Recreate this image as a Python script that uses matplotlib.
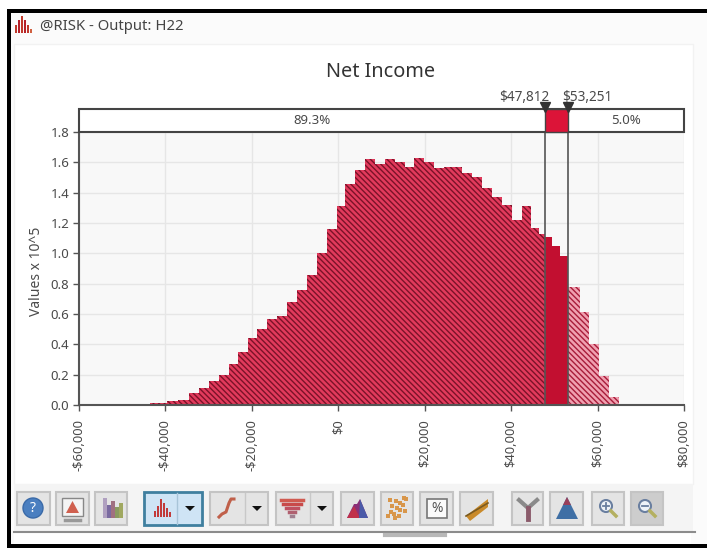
#!/usr/bin/env python3

import numpy as np
import matplotlib
matplotlib.use("Agg")
import matplotlib.pyplot as plt
from matplotlib.patches import Rectangle, Circle, Polygon

plt.rcParams["font.family"] = ["Noto Sans", "DejaVu Sans"]
plt.rcParams["hatch.linewidth"] = 1.0

# Bin edges in dollars and bar heights (values x 10^5)
bin_edges = [-47400, -45450, -43500, -41600, -39700, -37100, -34650, -32300, -30000,
             -27700, -25400, -23100, -20800, -18800, -16500, -14200, -11900, -9600,
             -7250, -4900, -2600, -300, 1600, 3900, 6250, 8560, 10880, 13190, 15510,
             17440, 19750, 22070, 24380, 26310, 28630, 30940, 33260, 35570, 37880,
             40200, 42510, 44670, 46370, 47812, 49460, 51390, 53251, 55860, 57950,
             60260, 62580, 64890]
heights = [0.005, 0.005, 0.012, 0.015, 0.025, 0.035, 0.08, 0.11, 0.155, 0.20, 0.27,
           0.35, 0.445, 0.50, 0.57, 0.59, 0.68, 0.76, 0.86, 1.00, 1.16, 1.31, 1.46,
           1.55, 1.62, 1.59, 1.62, 1.60, 1.57, 1.63, 1.60, 1.56, 1.57, 1.57,
           1.53, 1.50, 1.43, 1.37, 1.32, 1.22, 1.31, 1.17, 1.13, 1.11, 1.05, 0.98,
           0.78, 0.615, 0.405, 0.19, 0.05]
x_ticks = [-60000, -40000, -20000, 0, 20000, 40000, 60000, 80000]
x_labels = ["-$60,000", "-$40,000", "-$20,000", "$0", "$20,000", "$40,000", "$60,000", "$80,000"]
y_ticks = [0.0, 0.2, 0.4, 0.6, 0.8, 1.0, 1.2, 1.4, 1.6, 1.8]
low_cut, high_cut = 47812, 53251
low_label, high_label = "$47,812", "$53,251"
left_pct, right_pct = "89.3%", "5.0%"

W, H = 707, 548
TXT = "#4a4a4a"

fig = plt.figure(figsize=(W / 100, H / 100), dpi=100, facecolor="white")

# Window chrome, in pixel coordinates
bg = fig.add_axes([0, 0, 1, 1], zorder=0)
bg.set_xlim(0, W)
bg.set_ylim(H, 0)
bg.axis("off")

bg.add_patch(Rectangle((11, 13), W - 11, 531, fc="#fbfbfb", ec="none"))
bg.add_patch(Rectangle((14, 44), 679, 440, fc="white", ec="#f2f2f2", lw=1))
bg.add_patch(Rectangle((14, 484), 679, 48, fc="#f4f4f4", ec="none"))
bg.add_patch(Rectangle((14, 532), W - 30, 12, fc="white", ec="none"))
bg.plot([14, 695], [532, 532], color="#8c8c8c", lw=1.5)
bg.plot([385, 445], [535, 535], color="#b8b8b8", lw=3)
bg.add_patch(Rectangle((7, 9), W - 7, 4, fc="black", ec="none"))
bg.add_patch(Rectangle((7, 9), 4, H - 9, fc="black", ec="none"))
bg.add_patch(Rectangle((7, 544), W - 7, 4, fc="black", ec="none"))

# title bar icon and caption
for xx, hh, col in zip([15, 18, 21, 24, 27, 30], [8, 13, 17, 13, 8, 4],
                       ["#c0392b", "#b5202a", "#c0392b", "#b5202a", "#c0392b", "#d06040"]):
    bg.add_patch(Rectangle((xx, 33 - hh), 2.2, hh, fc=col, ec="none"))
bg.text(40, 26, "@RISK - Output: H22", fontsize=10.7, color="#444444", va="center", ha="left")


def button(x0, x1, fc="#e4e4e4", ec="#c4c4c4", lw=1.5):
    bg.add_patch(Rectangle((x0, 492), x1 - x0, 33, fc=fc, ec=ec, lw=lw))


def arrow(cx, color="#111111"):
    bg.add_patch(Polygon([(cx - 5, 506), (cx + 5, 506), (cx, 511)], fc=color, ec="none"))


def hist_icon(cx):
    for dx, hh in zip([-8, -5, -2, 1, 4, 7], [6, 11, 18, 14, 9, 5]):
        bg.add_patch(Rectangle((cx + dx, 517 - hh), 2.2, hh, fc="#c23a3a", ec="none"))


def zoom_icon(cx, color, sign):
    bg.add_patch(Circle((cx - 2, 506), 6, fc="#eef3f8", ec=color, lw=1.5))
    bg.plot([cx - 5, cx + 1], [506, 506], color=color, lw=1.3)
    if sign == "+":
        bg.plot([cx - 2, cx - 2], [503, 509], color=color, lw=1.3)
    bg.plot([cx + 3, cx + 8], [511, 516], color="#b4b060", lw=2.5)


button(17, 50)
bg.add_patch(Circle((33, 508), 10, fc="#4b7fc0", ec="#3a6aa8", lw=1))
bg.text(33, 508, "?", color="white", fontsize=10, fontweight="bold", ha="center", va="center")

button(56, 89)
bg.add_patch(Rectangle((62, 498), 21, 18, fc="#f4f4f4", ec="#888888", lw=1))
bg.add_patch(Polygon([(66, 513), (79, 513), (72.5, 501)], fc="#d0604f", ec="none"))
bg.plot([65, 80], [520, 520], color="#999999", lw=2.5)

button(95, 127)
for xx, hh, col in zip([103, 107, 111, 115, 119], [20, 13, 17, 11, 15],
                       ["#b0a0c0", "#7a6aa0", "#a07080", "#8a9a60", "#a0a860"]):
    bg.add_patch(Rectangle((xx, 518 - hh), 3.5, hh, fc=col, ec="none"))

button(144, 202, fc="#cfe4f5", ec="#3f7f9f", lw=2)
bg.plot([177, 177], [493, 524], color="#a8c4d8", lw=1)
hist_icon(162)
arrow(190)

button(210, 268)
bg.plot([245, 245], [493, 524], color="#c8c8c8", lw=1)
s_x = [219, 222, 226, 229, 231, 234]
s_y = [517, 514, 512, 503, 499, 499]
bg.plot(s_x, s_y, color="#c0604a", lw=2.2)
arrow(257)

button(276, 333)
bg.plot([310, 310], [493, 524], color="#c8c8c8", lw=1)
for yy, half, col in zip([500, 504, 508, 512, 516], [11, 9, 6, 3, 1],
                         ["#d05a50", "#c84a4a", "#c05060", "#b06070", "#a08090"]):
    bg.plot([292 - half, 292 + half], [yy, yy], color=col, lw=2.5)
arrow(322)

button(341, 374)
bg.add_patch(Polygon([(347, 518), (368, 518), (360, 499), (357, 504), (354, 504)], fc="#8a2f78", ec="none"))
bg.add_patch(Polygon([(347, 518), (360, 518), (354, 506)], fc="#c0304a", ec="none"))
bg.add_patch(Polygon([(360, 499), (368, 518), (359, 518)], fc="#4a5aa8", ec="none"))

button(381, 413)
scatter_x = [388, 391, 394, 397, 400, 403, 406, 392, 396, 400, 404, 390, 395, 399, 405]
scatter_y = [516, 512, 514, 508, 510, 505, 499, 506, 501, 503, 498, 500, 518, 516, 511]
bg.scatter(scatter_x, scatter_y, s=10, color="#d8964a", marker="s", linewidths=0)

button(420, 453)
bg.add_patch(Rectangle((427, 499), 20, 19, fc="#fafafa", ec="#777777", lw=1.2))
bg.text(437, 508.5, "%", fontsize=10, color="#555555", ha="center", va="center")

button(460, 493)
bg.add_patch(Polygon([(466, 516), (488, 499), (488, 507), (470, 521)], fc="#c98a2a", ec="none"))
bg.plot([466, 488], [516, 503], color="#7a5a20", lw=1.2)

button(512, 543)
bg.plot([519, 528, 537], [500, 508, 500], color="#8a8a8a", lw=3)
bg.plot([528, 528], [508, 519], color="#8a5a6a", lw=3.5)

button(550, 583)
bg.add_patch(Polygon([(556, 519), (563, 505), (567, 497), (571, 505), (578, 519)], fc="#3f6fa5", ec="none"))
bg.add_patch(Polygon([(563, 505), (567, 497), (571, 505)], fc="#9a3f5a", ec="none"))

button(592, 624)
zoom_icon(608, "#6a7fa0", "+")

button(631, 663, fc="#cdcdcd", ec="#c4c4c4")
zoom_icon(647, "#6a7fa0", "-")

# The chart itself
ax_left, ax_right = 79, 684
ax_top, ax_bottom = 132, 405
a = fig.add_axes([ax_left / W, 1 - ax_bottom / H, (ax_right - ax_left) / W, (ax_bottom - ax_top) / H],
                 zorder=1)
a.set_facecolor("#f8f8f8")
a.set_xlim(-60000, 80000)
a.set_ylim(0, 1.8)
a.set_xticks(x_ticks)
a.set_xticklabels(x_labels, rotation=90, fontsize=9.3, color=TXT)
a.set_yticks(y_ticks)
a.set_yticklabels(["%.1f" % y for y in y_ticks], fontsize=9.5, color=TXT)
a.set_ylabel("Values x 10^5", fontsize=10, color=TXT)
a.yaxis.set_label_coords((44 - ax_left) / (ax_right - ax_left), 0.49)
a.tick_params(axis="both", length=4, width=1, color="#555555", pad=3)
a.tick_params(axis="x", pad=6)
a.grid(True, color="#e6e6e6", lw=1)
a.set_axisbelow(True)
for side in ["top", "right"]:
    a.spines[side].set_visible(False)
for side in ["left", "bottom"]:
    a.spines[side].set_color("#555555")
    a.spines[side].set_linewidth(1.5)

edges = np.array(bin_edges, dtype=float)
vals = np.array(heights)
lefts = edges[:-1]
widths = np.diff(edges)
mids = lefts + widths / 2

in_left = mids < low_cut
in_band = (mids >= low_cut) & (mids < high_cut)
in_right = mids >= high_cut

a.bar(lefts[in_left], vals[in_left], width=widths[in_left], align="edge",
      facecolor="#e23a5c", edgecolor="#7a1228", hatch="\\" * 6, linewidth=0, zorder=2)
a.bar(lefts[in_band], vals[in_band], width=widths[in_band], align="edge",
      facecolor="#c20f30", edgecolor="#a80f2a", linewidth=0, zorder=2)
a.bar(lefts[in_right], vals[in_right], width=widths[in_right], align="edge",
      facecolor="#f0a0b0", edgecolor="#a81c3a", hatch="\\" * 6, linewidth=0, zorder=2)

a.axvline(low_cut, color="#555555", lw=1.2, zorder=3)
a.axvline(high_cut, color="#555555", lw=1.2, zorder=3)

# Delimiter bar above the plot
trans = a.get_xaxis_transform()
bar_y0, bar_y1 = 1.0, 1 + 23.5 / (ax_bottom - ax_top)
a.add_patch(Rectangle((-60000, bar_y0), 140000, bar_y1 - bar_y0, transform=trans,
                      fc="white", ec="#444444", lw=1.5, clip_on=False, zorder=4))
a.add_patch(Rectangle((low_cut, bar_y0), high_cut - low_cut, bar_y1 - bar_y0, transform=trans,
                      fc="#dc1438", ec="#444444", lw=1, clip_on=False, zorder=5))
for cut in [low_cut, high_cut]:
    a.plot([cut], [bar_y1 + 0.006], marker="v", ms=7, color="#333333", transform=trans,
           clip_on=False, zorder=6)

mid_y = (bar_y0 + bar_y1) / 2
a.text((-60000 + low_cut) / 2, mid_y, left_pct, transform=trans, fontsize=9.5, color=TXT,
       ha="center", va="center", zorder=6)
a.text((high_cut + 80000) / 2, mid_y, right_pct, transform=trans, fontsize=9.5, color=TXT,
       ha="center", va="center", zorder=6)
a.text(low_cut + 1000, bar_y1 + 0.014, low_label, transform=trans, fontsize=9.8, color=TXT,
       ha="right", va="bottom")
a.text(high_cut - 1400, bar_y1 + 0.014, high_label, transform=trans, fontsize=9.8, color=TXT,
       ha="left", va="bottom")
a.text(381 / W, 1 - 72 / H, "Net Income", transform=fig.transFigure, fontsize=14.3, color="#333333",
       ha="center", va="center")

fig.savefig("out.png", dpi=100)
